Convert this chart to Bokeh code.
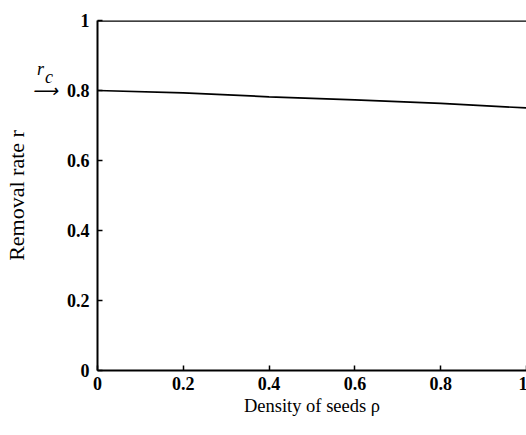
from bokeh.plotting import figure
from bokeh.models import Range1d, FixedTicker, LinearAxis
from bokeh.embed import file_html
from bokeh.resources import INLINE

# Data
rho = [0.0, 0.2, 0.4, 0.6, 0.8, 1.0]
r_curve = [0.800, 0.793, 0.782, 0.773, 0.763, 0.750]
rho_upper = [0.0, 1.0]
r_upper = [1.0, 1.0]
r_c = 0.8
x_ticks = [0, 0.2, 0.4, 0.6, 0.8, 1.0]
x_tick_labels = ["0", "0.2", "0.4", "0.6", "0.8", "1"]
y_ticks = [0, 0.2, 0.4, 0.6, 0.8, 1.0]
y_tick_labels = ["0", "0.2", "0.4", "0.6", "0.8", "1"]
# r_c marker: arrow at r_c, symbol "r_c" written just above it
rc_marks = [r_c, 0.862, 0.838]
rc_labels = ["\u27f6", "r\u00a0\u00a0\u00a0", "c\u00a0"]

FONT = "Liberation Serif"
H = 428
FL, FB, FH = 96, 58, 350  # frame left, bottom border, frame height

p = figure(width=526, height=H, output_backend="svg", toolbar_location=None,
           x_range=Range1d(0, 1), y_range=Range1d(0, 1),
           frame_width=429, frame_height=FH,
           min_border_left=FL, min_border_right=1, min_border_top=20, min_border_bottom=FB)
p.background_fill_color = None
p.border_fill_color = None
p.outline_line_color = None
p.grid.visible = False

p.line(rho, r_curve, line_color="black", line_width=1.7)
p.line(rho_upper, r_upper, line_color="black", line_width=2.5)

for ax, ticks, labels in ((p.xaxis[0], x_ticks, x_tick_labels), (p.yaxis[0], y_ticks, y_tick_labels)):
    ax.ticker = FixedTicker(ticks=ticks)
    ax.major_label_overrides = {t: l for t, l in zip(ticks, labels)}
    ax.axis_line_width = 2
    ax.axis_line_color = "black"
    ax.major_tick_in = 5
    ax.major_tick_out = 0
    ax.major_tick_line_width = 1.5
    ax.minor_tick_line_color = None
    ax.major_label_text_font = FONT
    ax.major_label_text_font_size = "18px"
    ax.major_label_text_font_style = "bold"
    ax.major_label_text_color = "black"
    ax.axis_label_text_font = FONT
    ax.axis_label_text_font_style = "normal"
    ax.axis_label_text_color = "black"

p.xaxis.axis_label = "Density of seeds ρ"
p.xaxis.axis_label_text_font_size = "18.5px"
p.xaxis.major_label_standoff = 6
p.yaxis.major_label_standoff = 8
p.xaxis.axis_label_standoff = 3

# outer left axis carrying the r_c marker and the axis title
rc_axis = LinearAxis(ticker=FixedTicker(ticks=rc_marks),
                     major_label_overrides={t: l for t, l in zip(rc_marks, rc_labels)},
                     axis_line_color=None, major_tick_line_color=None,
                     minor_tick_line_color=None, major_tick_in=0, major_tick_out=0,
                     major_label_standoff=6,
                     major_label_text_font=FONT, major_label_text_font_style="italic",
                     major_label_text_font_size="18px", major_label_text_color="black",
                     axis_label="Removal rate r", axis_label_text_font=FONT,
                     axis_label_text_font_style="normal", axis_label_text_font_size="22px",
                     axis_label_text_color="black", axis_label_standoff=0)
p.add_layout(rc_axis, "left")

open("out.html", "w").write(file_html(p, INLINE))
